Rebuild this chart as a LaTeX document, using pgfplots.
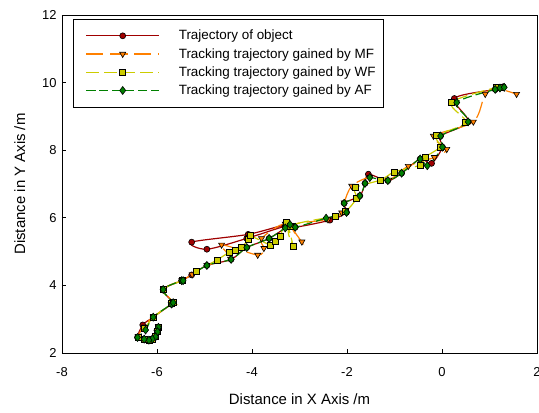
\documentclass[border=0pt]{standalone}
\usepackage{pgfplots}
\pgfplotsset{compat=1.18}
\usepackage{fontspec}
\setmainfont{Liberation Sans}
\definecolor{cred}{RGB}{160,0,0}
\definecolor{corange}{RGB}{255,128,0}
\definecolor{cyellow}{RGB}{204,204,0}
\definecolor{cgreen}{RGB}{0,128,0}
\begin{document}
\begin{tikzpicture}
\useasboundingbox (-62bp,-60bp) rectangle (477bp,353bp);
\begin{axis}[
  at={(0,0)}, anchor=south west,
  scale only axis, width=475bp, height=338bp,
  xmin=-8, xmax=2, ymin=2, ymax=12,
  xtick={-8,-6,...,2}, ytick={2,4,...,12},
  tick align=inside, xtick pos=bottom, ytick pos=left,
  major tick length=4bp,
  axis line style={line width=0.8pt},
  every tick/.style={black, line width=0.8pt},
  /pgf/number format/assume math mode=true,
  tick label style={font=\fontsize{13}{15}\selectfont},
  xticklabel style={yshift=-11bp},
  yticklabel style={xshift=-2bp},
  label style={font=\fontsize{15}{17}\selectfont},
  xlabel style={yshift=-10bp},
  ylabel style={yshift=10bp},
  xlabel={Distance in X Axis /m},
  ylabel={Distance in Y Axis /m},
  legend cell align=left,
  legend style={at={(axis description cs:0,1)}, anchor=north west, xshift=11bp, yshift=-4bp,
    font=\fontsize{13.5}{15}\selectfont,
    row sep=3bp, inner xsep=6bp, inner ysep=9bp,
    /tikz/every odd column/.append style={column sep=17bp}},
  legend image code/.code={\draw[mark repeat=2,mark phase=2,#1] plot coordinates {(0bp,0bp) (36.5bp,0bp) (73bp,0bp)};\path[draw=none] (-7bp,0bp) -- (0bp,0bp);},
]
\addplot[cred, line width=1.2pt, smooth, mark=*, mark size=3bp, mark options={solid, fill=cred, draw=black, line width=0.6pt}] table {
x y
-5.97 2.76
-5.99 2.63
-6.03 2.48
-6.10 2.41
-6.17 2.38
-6.27 2.41
-6.41 2.46
-6.30 2.83
-6.08 3.06
-5.69 3.45
-5.66 3.50
-5.87 3.88
-5.48 4.14
-5.27 4.31
-4.95 4.59
-4.44 4.77
-4.11 5.12
-3.64 5.39
-3.25 5.80
-4.08 5.51
-5.27 5.28
-4.95 5.07
-4.11 5.39
-3.30 5.75
-3.09 5.72
-2.36 5.93
-2.01 6.16
-2.06 6.43
-1.73 6.65
-1.62 7.02
-1.55 7.29
-1.14 7.10
-0.85 7.32
-0.46 7.74
-0.22 7.61
0.01 8.09
-0.03 8.42
0.55 8.84
0.26 9.53
1.12 9.80
1.29 9.88
};
\addlegendentry{Trajectory of object}
\addplot[corange, line width=1.2pt, smooth, dash pattern=on 17bp off 7bp, mark=triangle*, mark size=3.5bp, mark options={solid, rotate=180, fill=corange, draw=black, line width=0.6pt}] table {
x y
-5.97 2.78
-6.00 2.62
-6.04 2.47
-6.11 2.40
-6.18 2.38
-6.28 2.42
-6.40 2.48
-6.28 2.78
-6.08 3.07
-5.70 3.44
-5.66 3.50
-5.86 3.89
-5.48 4.15
-5.26 4.32
-4.95 4.60
-4.45 4.78
-4.64 5.20
-3.88 4.90
-3.75 5.10
-3.80 5.39
-3.30 5.82
-2.95 5.29
-3.15 5.78
-2.40 5.95
-2.11 6.15
-2.06 6.45
-1.90 6.94
-1.52 7.20
-1.12 7.12
-0.71 7.53
-0.16 7.79
0.10 8.03
-0.18 8.42
0.66 8.84
0.91 9.66
1.15 9.82
1.57 9.66
};
\addlegendentry{Tracking trajectory gained by MF}
\addplot[cyellow, line width=1.2pt, smooth, dash pattern=on 13bp off 5bp, mark=square*, mark size=3bp, mark options={solid, fill=cyellow, draw=black, line width=0.6pt}] table {
x y
-5.97 2.75
-6.00 2.63
-6.03 2.49
-6.10 2.42
-6.17 2.39
-6.27 2.42
-6.40 2.47
-6.26 2.72
-6.08 3.05
-5.69 3.46
-5.66 3.49
-5.87 3.87
-5.47 4.15
-5.17 4.42
-4.74 4.75
-4.48 4.98
-4.36 5.03
-4.22 5.12
-4.08 5.36
-4.04 5.47
-3.62 5.20
-3.52 5.29
-3.41 5.44
-3.28 5.88
-3.13 5.17
-3.20 5.75
-2.24 6.05
-2.03 6.18
-1.80 6.58
-1.83 6.89
-1.29 7.12
-1.00 7.36
-0.46 7.56
-0.36 7.79
-0.04 8.10
-0.11 8.43
0.50 8.82
0.20 9.41
1.15 9.86
1.25 9.85
};
\addlegendentry{Tracking trajectory gained by WF}
\addplot[cgreen, line width=1.2pt, smooth, dash pattern=on 9bp off 4bp, mark=diamond*, mark size=4bp, mark options={solid, fill=cgreen, draw=black, line width=0.6pt}] table {
x y
-5.97 2.76
-5.99 2.63
-6.03 2.48
-6.10 2.41
-6.17 2.38
-6.27 2.41
-6.41 2.46
-6.24 2.68
-6.08 3.06
-5.69 3.45
-5.66 3.49
-5.87 3.88
-5.48 4.14
-5.45 4.14
-4.95 4.59
-4.44 4.77
-4.11 5.12
-3.64 5.39
-3.30 5.70
-3.20 5.80
-3.09 5.72
-2.44 5.99
-2.01 6.16
-2.06 6.43
-1.73 6.65
-1.62 7.02
-1.52 7.19
-1.14 7.10
-0.85 7.32
-0.46 7.74
-0.31 7.54
0.01 8.09
-0.03 8.42
0.55 8.84
0.31 9.41
1.12 9.80
1.22 9.84
1.31 9.86
};
\addlegendentry{Tracking trajectory gained by AF}
\end{axis}
\end{tikzpicture}
\end{document}
